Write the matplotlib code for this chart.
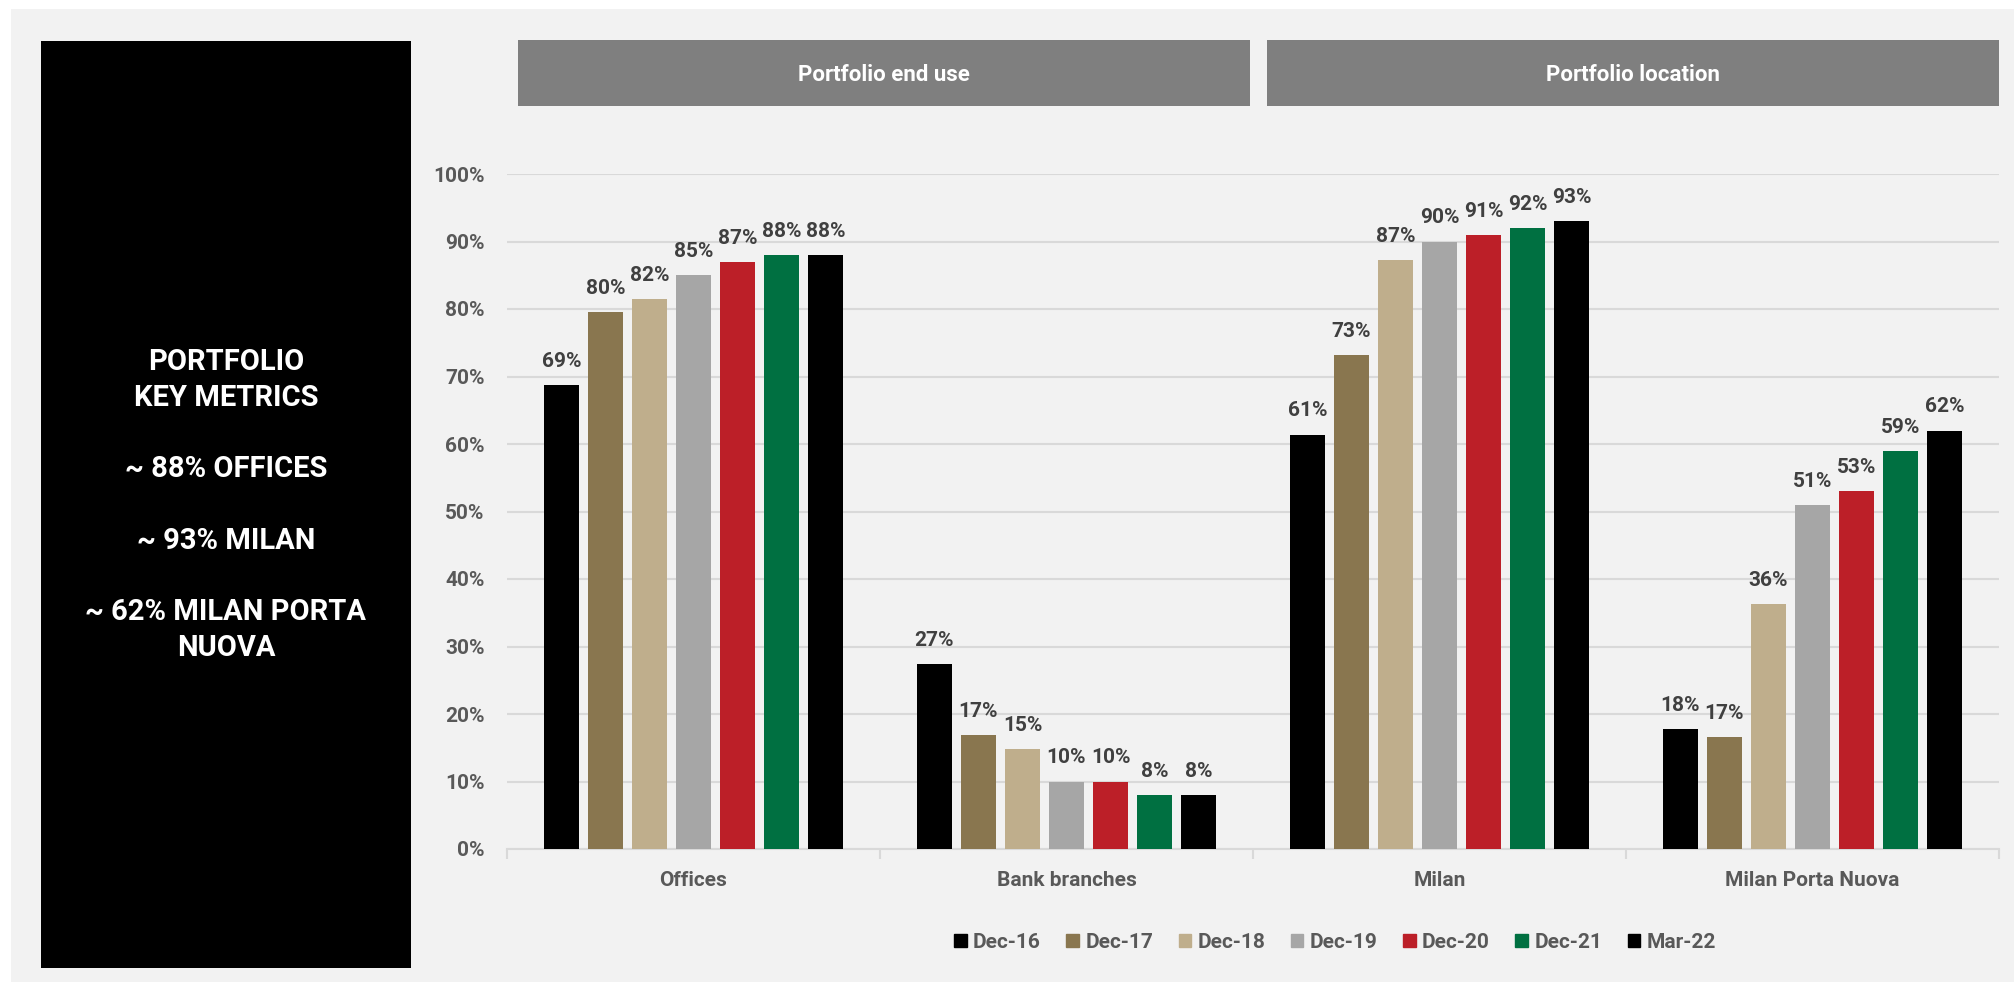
import numpy as np
import matplotlib.pyplot as plt
import matplotlib.patches as mpatches
import matplotlib.ticker as mticker

plt.rcParams['font.family'] = ['Roboto', 'DejaVu Sans']

categories = ['Offices', 'Bank branches', 'Milan', 'Milan Porta Nuova']
periods = ['Dec-16', 'Dec-17', 'Dec-18', 'Dec-19', 'Dec-20', 'Dec-21', 'Mar-22']
# share of portfolio (%), one list per period, ordered as categories
dec16 = [68.7, 27.4, 61.4, 17.8]
dec17 = [79.6, 16.9, 73.2, 16.6]
dec18 = [81.5, 14.8, 87.3, 36.3]
dec19 = [85.0, 10.0, 90.0, 51.0]
dec20 = [87.0, 10.0, 91.0, 53.0]
dec21 = [88.0, 8.0, 92.0, 59.0]
mar22 = [88.0, 8.0, 93.0, 62.0]
series = [dec16, dec17, dec18, dec19, dec20, dec21, mar22]
colors = ['#000000', '#89764f', '#bfae8c', '#a6a6a6', '#bc1f28', '#007041', '#000000']

headers = ['Portfolio end use', 'Portfolio location']
key_text = 'PORTFOLIO\nKEY METRICS\n\n~ 88% OFFICES\n\n~ 93% MILAN\n\n~ 62% MILAN PORTA\nNUOVA'

W, H = 2015, 982
BG = '#f2f2f2'
GRID = '#d9d9d9'

def fx(px):
    return px / W

def fy(py):
    return 1 - py / H

fig = plt.figure(figsize=(W / 100, H / 100), dpi=100, facecolor='white')

# light panel behind everything
fig.add_artist(mpatches.Rectangle((fx(11), 0), 1 - fx(11), fy(9), transform=fig.transFigure,
                                  facecolor=BG, edgecolor='none', zorder=0))

# black key-metrics box
fig.add_artist(mpatches.Rectangle((fx(41), fy(968)), fx(411 - 41), (968 - 41) / H,
                                  transform=fig.transFigure, facecolor='black', edgecolor='none', zorder=1))
fig.text(fx(226), fy(505), key_text, color='white', fontsize=21, fontweight='bold',
         ha='center', va='center', multialignment='center', linespacing=1.35, zorder=2)

# grey headers
for (x0, x1), label in zip([(518, 1250), (1267, 1999)], headers):
    fig.add_artist(mpatches.Rectangle((fx(x0), fy(106)), fx(x1 - x0), (106 - 40) / H,
                                      transform=fig.transFigure, facecolor='#7f7f7f', edgecolor='none', zorder=1))
    fig.text(fx((x0 + x1) / 2), fy(75), label, color='white', fontsize=16, fontweight='bold',
             ha='center', va='center', zorder=2)

ax = fig.add_axes([fx(507), 133 / H, fx(1999 - 507), 675 / H])
ax.set_facecolor('none')
ax.set_zorder(3)

x = np.arange(len(categories))
step = 0.118
width = 0.094
for i, (vals, c) in enumerate(zip(series, colors)):
    pos = x + (i - 3) * step
    ax.bar(pos, vals, width, color=c, edgecolor='none', zorder=3, label=periods[i])
    for xp, v in zip(pos, vals):
        ax.annotate('%d%%' % round(v), (xp, v), xytext=(0, 13), textcoords='offset points',
                    ha='center', va='baseline', fontsize=15, fontweight='bold', color='#404040')

ax.set_xlim(-0.5, len(categories) - 0.5)
ax.set_ylim(0, 100)
ax.yaxis.set_major_locator(mticker.MultipleLocator(10))
ax.yaxis.set_major_formatter(mticker.FuncFormatter(lambda v, p: '%d%%' % v))
ax.grid(True, axis='y', color=GRID, linewidth=1.5, zorder=0)
ax.set_axisbelow(True)

ax.set_xticks(x)
ax.set_xticklabels(categories)
ax.set_xticks(np.arange(len(categories) + 1) - 0.5, minor=True)
ax.tick_params(axis='x', which='major', length=0, pad=16, labelsize=15, labelcolor='#595959')
ax.tick_params(axis='x', which='minor', length=7, width=1.5, color=GRID)
ax.tick_params(axis='y', length=0, pad=16, labelsize=15, labelcolor='#595959')
for lab in ax.get_yticklabels() + ax.get_xticklabels():
    lab.set_fontweight('bold')

for s in ['top', 'right', 'left']:
    ax.spines[s].set_visible(False)
ax.spines['bottom'].set_color(GRID)
ax.spines['bottom'].set_linewidth(1.5)

handles = [mpatches.Patch(color=c, label=p) for c, p in zip(colors, periods)]
leg = fig.legend(handles=handles, loc='center', bbox_to_anchor=(fx(1335), fy(942)), ncol=7,
                 frameon=False, fontsize=15, handlelength=0.6, handleheight=0.6,
                 handletextpad=0.3, columnspacing=1.23)
for t in leg.get_texts():
    t.set_color('#595959')
    t.set_fontweight('bold')

fig.savefig('out.png', dpi=100, facecolor=fig.get_facecolor())
